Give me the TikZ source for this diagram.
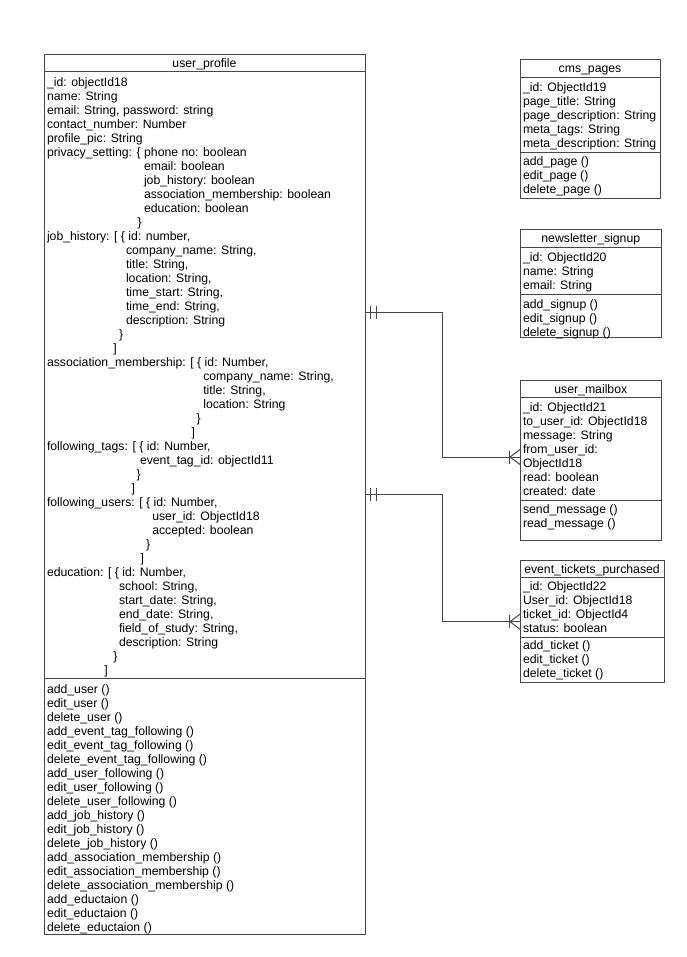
\documentclass[tikz,border=0pt]{standalone}
\usepackage{fontspec}
\setmainfont{Liberation Sans}
\usetikzlibrary{calc}

\definecolor{linec}{RGB}{70,70,70}
\newcommand\ufont{\fontsize{12.25}{14}\selectfont}
\newcommand\ind[1]{\hspace*{#1pt}}
\newcommand\fl{\rule{0pt}{10pt}}

\tikzset{
  x=1pt, y=-1pt,
  classbox/.style={draw=linec, line width=1pt, fill=white, inner sep=0pt, outer sep=0pt, anchor=north west},
  sepline/.style={draw=linec, line width=1pt},
  txt/.style={anchor=north west, inner sep=0pt, outer sep=0pt, font=\ufont, align=left},
  ttl/.style={anchor=base, inner sep=0pt, outer sep=0pt, font=\ufont},
  conn/.style={draw=linec, line width=1pt},
}

\begin{document}
\begin{tikzpicture}
\useasboundingbox[fill=white] (0,0) rectangle (686,957);

% ---------- user_profile ----------
\node[classbox, minimum width=321pt, minimum height=879pt] (up) at (44,55) {};
\draw[sepline] (44,72) -- (365,72);
\draw[sepline] (44,678) -- (365,678);
\node[ttl] (up-t) at (204.5,68) {user\_profile};
\node[txt] (up-a) at (47,76.3) {\fl\_id: objectId18\\
name: String\\
email: String, password: string\\
contact\_number: Number\\
profile\_pic: String\\
privacy\_setting: \{ phone no: boolean\\
\ind{97}email: boolean\\
\ind{97}job\_history: boolean\\
\ind{97}association\_membership: boolean\\
\ind{97}education: boolean\\
\ind{90.7}\}\\
job\_history: [ \{ id: number,\\
\ind{79}company\_name: String,\\
\ind{79}title: String,\\
\ind{79}location: String,\\
\ind{79}time\_start: String,\\
\ind{79}time\_end: String,\\
\ind{79}description: String\\
\ind{72}\}\\
\ind{66.3}]\\
association\_membership: [ \{ id: Number,\\
\ind{156.3}company\_name: String,\\
\ind{156.3}title: String,\\
\ind{156.3}location: String\\
\ind{149.7}\}\\
\ind{144.7}]\\
following\_tags: [ \{ id: Number,\\
\ind{93}event\_tag\_id: objectId11\\
\ind{89.7}\}\\
\ind{84.7}]\\
following\_users: [ \{ id: Number,\\
\ind{105.3}user\_id: ObjectId18\\
\ind{105.3}accepted: boolean\\
\ind{99}\}\\
\ind{93.7}]\\
education: [ \{ id: Number,\\
\ind{72}school: String,\\
\ind{72}start\_date: String,\\
\ind{72}end\_date: String,\\
\ind{72}field\_of\_study: String,\\
\ind{72}description: String\\
\ind{66.3}\}\\
\ind{57.3}]};
\node[txt] (up-m) at (47,683) {\fl add\_user ()\\
edit\_user ()\\
delete\_user ()\\
add\_event\_tag\_following ()\\
edit\_event\_tag\_following ()\\
delete\_event\_tag\_following ()\\
add\_user\_following ()\\
edit\_user\_following ()\\
delete\_user\_following ()\\
add\_job\_history ()\\
edit\_job\_history ()\\
delete\_job\_history ()\\
add\_association\_membership ()\\
edit\_association\_membership ()\\
delete\_association\_membership ()\\
add\_eductaion ()\\
edit\_eductaion ()\\
delete\_eductaion ()};

% ---------- cms_pages ----------
\node[classbox, minimum width=140pt, minimum height=138.3pt] (cms) at (520,60) {};
\draw[sepline] (520,77.7) -- (660,77.7);
\draw[sepline] (520,152.3) -- (660,152.3);
\node[ttl] (cms-t) at (590,73) {cms\_pages};
\node[txt] (cms-a) at (523,81.3) {\fl\_id: ObjectId19\\
page\_title: String\\
page\_description: String\\
meta\_tags: String\\
meta\_description: String};
\node[txt] (cms-m) at (523,155.7) {\fl add\_page ()\\
edit\_page ()\\
delete\_page ()};

% ---------- newsletter_signup ----------
\node[classbox, minimum width=141.7pt, minimum height=107.7pt] (ns) at (520,230) {};
\draw[sepline] (520,247.7) -- (661.7,247.7);
\draw[sepline] (520,294) -- (661.7,294);
\node[ttl] (ns-t) at (590.8,243) {newsletter\_signup};
\node[txt] (ns-a) at (523,251.3) {\fl\_id: ObjectId20\\
name: String\\
email: String};
\node[txt] (ns-m) at (523,298) {\fl add\_signup ()\\
edit\_signup ()\\
delete\_signup ()};

% ---------- user_mailbox ----------
\node[classbox, minimum width=141.7pt, minimum height=160.7pt] (mb) at (520,380) {};
\draw[sepline] (520,397.7) -- (661.7,397.7);
\draw[sepline] (520,500) -- (661.7,500);
\node[ttl] (mb-t) at (590.8,393) {user\_mailbox};
\node[txt] (mb-a) at (523,401.3) {\fl\_id: ObjectId21\\
to\_user\_id: ObjectId18\\
message: String\\
from\_user\_id:\\
ObjectId18\\
read: boolean\\
created: date};
\node[txt] (mb-m) at (523,503) {\fl send\_message ()\\
read\_message ()};

% ---------- event_tickets_purchased ----------
\node[classbox, minimum width=144pt, minimum height=122.7pt] (et) at (520,560) {};
\draw[sepline] (520,577.7) -- (664,577.7);
\draw[sepline] (520,637.7) -- (664,637.7);
\node[ttl] (et-t) at (592,573) {event\_tickets\_purchased};
\node[txt] (et-a) at (523,580.7) {\fl\_id: ObjectId22\\
User\_id: ObjectId18\\
ticket\_id: ObjectId4\\
status: boolean};
\node[txt] (et-m) at (523,639.7) {\fl add\_ticket ()\\
edit\_ticket ()\\
delete\_ticket ()};

% ---------- relations: one user_profile to many ----------
\coordinate (r1s) at (up.east |- 0,312.5);
\coordinate (r1e) at (mb.west |- 0,457);
\coordinate (r2s) at (up.east |- 0,494.3);
\coordinate (r2e) at (et.west |- 0,621.7);

\draw[conn] (r1s) -| (442.5,457) -- (r1e);
\draw[conn] (r2s) -| (442.5,621.7) -- (r2e);

% "exactly one" bars at the user_profile end
\foreach \c in {r1s,r2s}{
  \draw[conn] ([xshift=5.5pt]\c) ++(0,-6.5) -- ++(0,13);
  \draw[conn] ([xshift=11pt]\c) ++(0,-6.5) -- ++(0,13);
}
% "one or many" crow's feet at the far ends
\foreach \c in {r1e,r2e}{
  \draw[conn] ([xshift=-11pt]\c) ++(0,-6.5) -- ++(0,13);
  \draw[conn] ($(\c)+(0,-7.5)$) -- ([xshift=-10pt]\c) -- ($(\c)+(0,7.5)$);
}
\end{tikzpicture}
\end{document}
